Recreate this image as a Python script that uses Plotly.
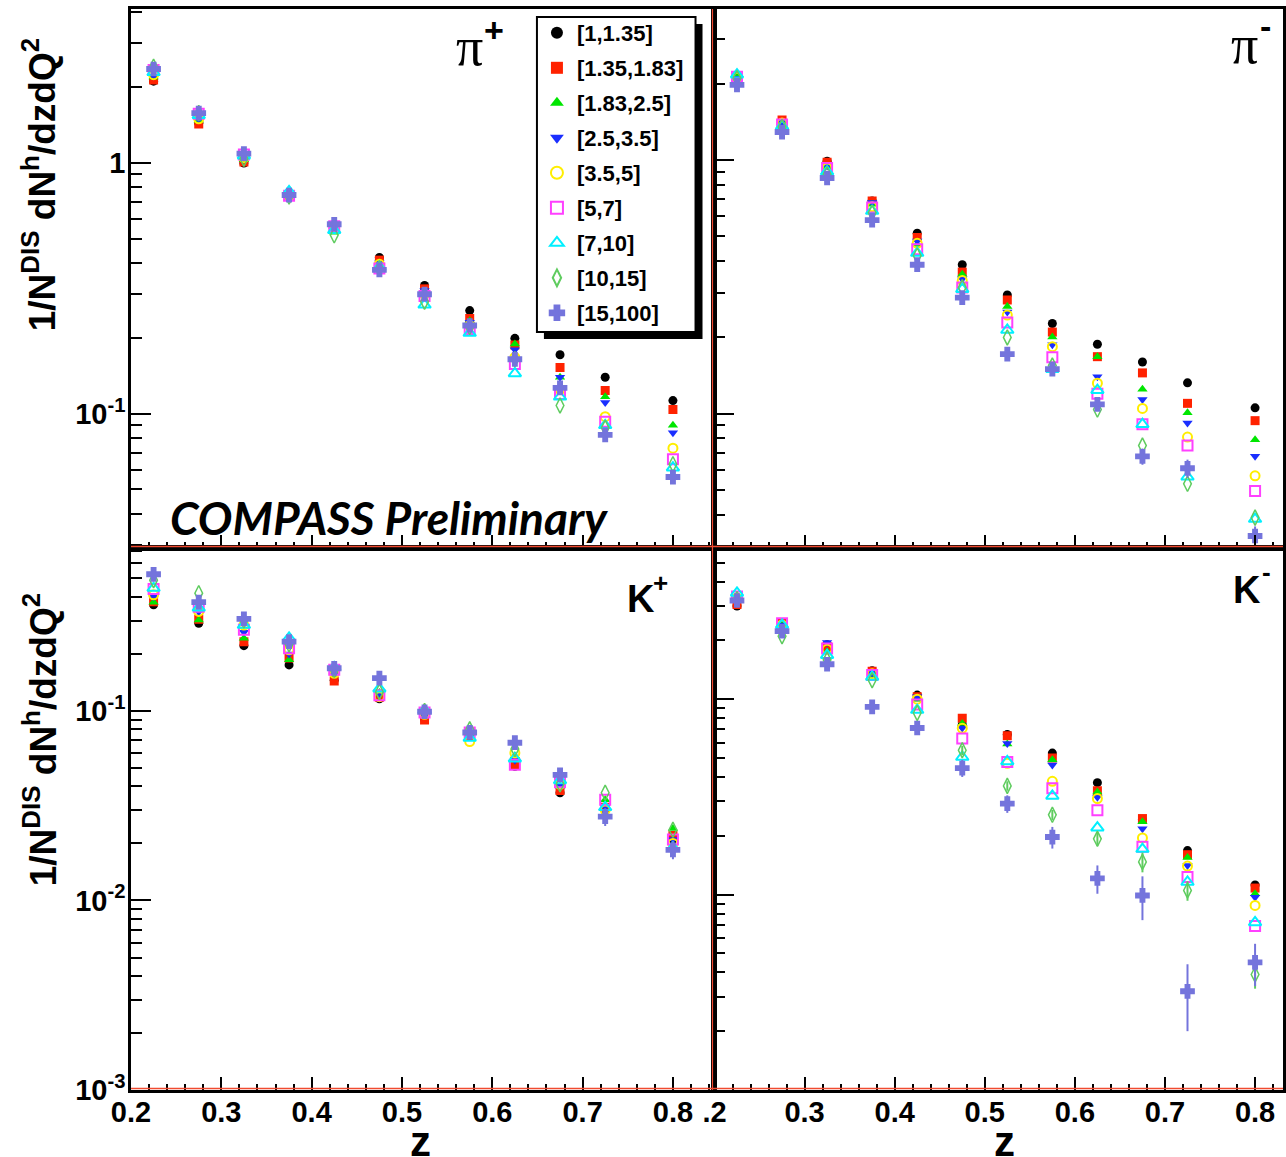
import numpy as np
import plotly.graph_objects as go

# ---------------- data ----------------
Z = [0.225, 0.275, 0.325, 0.375, 0.425, 0.475, 0.525, 0.575, 0.625, 0.675, 0.725, 0.8]
BINS = ["[1,1.35]", "[1.35,1.83]", "[1.83,2.5]", "[2.5,3.5]", "[3.5,5]",
        "[5,7]", "[7,10]", "[10,15]", "[15,100]"]

PIP = [
    [2.12, 1.44, 1.00, 0.745, 0.55, 0.42, 0.325, 0.258, 0.20, 0.172, 0.14, 0.113],
    [2.14, 1.43, 1.01, 0.745, 0.55, 0.41, 0.315, 0.24, 0.188, 0.153, 0.124, 0.104],
    [2.20, 1.48, 1.03, 0.75, 0.53, 0.40, 0.305, 0.235, 0.19, 0.14, 0.117, 0.09],
    [2.22, 1.50, 1.04, 0.75, 0.55, 0.40, 0.31, 0.232, 0.18, 0.14, 0.111, 0.084],
    [2.25, 1.50, 1.05, 0.745, 0.55, 0.395, 0.30, 0.225, 0.168, 0.125, 0.0975, 0.073],
    [2.35, 1.57, 1.08, 0.74, 0.56, 0.38, 0.295, 0.218, 0.158, 0.12, 0.093, 0.066],
    [2.30, 1.55, 1.07, 0.77, 0.54, 0.385, 0.272, 0.21, 0.145, 0.117, 0.09, 0.061],
    [2.42, 1.58, 1.04, 0.735, 0.515, 0.38, 0.28, 0.222, 0.165, 0.108, 0.088, 0.063],
    [2.37, 1.58, 1.09, 0.745, 0.57, 0.375, 0.30, 0.225, 0.165, 0.127, 0.0825, 0.056],
]
PIM = [
    [2.10, 1.43, 0.99, 0.69, 0.515, 0.387, 0.294, 0.227, 0.188, 0.16, 0.1325, 0.1056],
    [2.10, 1.44, 0.98, 0.69, 0.495, 0.362, 0.281, 0.21, 0.168, 0.145, 0.11, 0.094],
    [2.15, 1.40, 0.94, 0.67, 0.465, 0.355, 0.265, 0.201, 0.168, 0.125, 0.101, 0.079],
    [2.10, 1.41, 0.95, 0.68, 0.48, 0.34, 0.252, 0.187, 0.14, 0.114, 0.092, 0.068],
    [2.12, 1.40, 0.93, 0.655, 0.47, 0.335, 0.245, 0.184, 0.132, 0.105, 0.081, 0.057],
    [2.13, 1.38, 0.93, 0.65, 0.445, 0.315, 0.229, 0.167, 0.12, 0.091, 0.075, 0.0496],
    [2.17, 1.36, 0.90, 0.63, 0.43, 0.31, 0.214, 0.15, 0.124, 0.091, 0.0565, 0.0385],
    [2.10, 1.35, 0.88, 0.62, 0.42, 0.315, 0.20, 0.155, 0.104, 0.075, 0.053, 0.039],
    [1.98, 1.29, 0.85, 0.58, 0.387, 0.287, 0.172, 0.15, 0.109, 0.068, 0.061, 0.033],
]
KP = [
    [0.363, 0.29, 0.221, 0.175, 0.145, 0.116, 0.09, 0.075, 0.051, 0.037, 0.03, 0.021],
    [0.377, 0.305, 0.232, 0.19, 0.144, 0.118, 0.0896, 0.074, 0.052, 0.038, 0.031, 0.022],
    [0.375, 0.302, 0.242, 0.186, 0.16, 0.125, 0.095, 0.075, 0.058, 0.04, 0.034, 0.024],
    [0.40, 0.334, 0.26, 0.20, 0.155, 0.124, 0.095, 0.075, 0.055, 0.04, 0.031, 0.021],
    [0.41, 0.335, 0.284, 0.21, 0.158, 0.119, 0.096, 0.069, 0.06, 0.041, 0.03, 0.02],
    [0.44, 0.355, 0.268, 0.214, 0.165, 0.121, 0.098, 0.077, 0.052, 0.042, 0.034, 0.021],
    [0.445, 0.35, 0.284, 0.243, 0.17, 0.131, 0.101, 0.072, 0.056, 0.043, 0.031, 0.019],
    [0.49, 0.418, 0.30, 0.225, 0.165, 0.126, 0.10, 0.08, 0.063, 0.041, 0.037, 0.0236],
    [0.526, 0.375, 0.306, 0.232, 0.168, 0.149, 0.099, 0.077, 0.068, 0.046, 0.0277, 0.0185],
]
KM = [
    [0.30, 0.245, 0.19, 0.14, 0.105, 0.074, 0.066, 0.053, 0.0374, 0.0242, 0.0168, 0.0112],
    [0.305, 0.245, 0.186, 0.139, 0.103, 0.08, 0.065, 0.05, 0.034, 0.0245, 0.016, 0.0108],
    [0.32, 0.24, 0.175, 0.132, 0.10, 0.075, 0.059, 0.049, 0.0335, 0.0236, 0.0155, 0.0101],
    [0.32, 0.24, 0.195, 0.136, 0.103, 0.0713, 0.0593, 0.046, 0.0315, 0.0217, 0.0141, 0.0097],
    [0.33, 0.24, 0.18, 0.135, 0.10, 0.071, 0.047, 0.038, 0.031, 0.0195, 0.014, 0.0088],
    [0.335, 0.245, 0.182, 0.133, 0.094, 0.063, 0.0477, 0.035, 0.027, 0.0176, 0.0123, 0.0069],
    [0.35, 0.24, 0.168, 0.13, 0.088, 0.0506, 0.048, 0.032, 0.022, 0.0171, 0.0116, 0.0072],
    [0.325, 0.21, 0.159, 0.125, 0.085, 0.0548, 0.036, 0.0256, 0.0193, 0.0147, 0.0105, 0.0039],
    [0.32, 0.223, 0.151, 0.0913, 0.0712, 0.0444, 0.0292, 0.0197, 0.0121, 0.0099, 0.0032, 0.0045],
]

# visible error bars (others hidden inside the markers)
ERR_CROSS = {
    "pip": [0, 0, 0, 0, 0, 0, 0, 0, 0.004, 0.004, 0.0035, 0.003],
    "pim": [0, 0, 0, 0, 0, 0, 0, 0, 0.004, 0.005, 0.005, 0.003],
    "kp": [0, 0, 0, 0, 0, 0.004, 0, 0, 0.004, 0.003, 0.003, 0.002],
    "km": [0.01, 0.01, 0.008, 0.005, 0.004, 0.0044, 0.003, 0.0025, 0.002, 0.0025, 0.0012, 0.0011],
}
ERR_DIAMOND_KM = [0, 0, 0, 0, 0, 0.003, 0.002, 0.0015, 0.0015, 0.0017, 0.0012, 0.0006]

XTICKS = [0.2, 0.3, 0.4, 0.5, 0.6, 0.7, 0.8]
XTICKTEXT_L = ["0.2", "0.3", "0.4", "0.5", "0.6", "0.7", "0.8"]
XTICKTEXT_R = [".2", "0.3", "0.4", "0.5", "0.6", "0.7", "0.8"]

# ---------------- styles ----------------
COLORS = ["#000000", "#ff2200", "#00e600", "#1a2eff", "#ffee00",
          "#ff40ff", "#00f0ff", "#5fcc5f", "#7474dc"]
SYMBOLS = ["circle", "square", "triangle-up", "triangle-down", "circle-open",
           "square-open", "triangle-up-open", "diamond-tall-open", "cross"]
SIZES = [9, 9, 9, 9, 9, 10, 11, 11, 11]
LWIDTH = [0, 0, 0, 0, 2, 2, 2, 1.5, 1.5]

W, H = 1286, 1157
ML, MR, MT, MB = 131, 0, 9, 67
PW, PH = W - ML - MR, H - MT - MB


def px(x):
    return (x - ML) / PW


def py(y):
    return (H - MB - y) / PH


XSPLIT = px(716)
YSPLIT = py(548)

SANS = "Liberation Sans, Arial, sans-serif"
tickfont = dict(family=SANS, size=29, color="black", weight="bold")

fig = go.Figure()

panels = [("pip", PIP, "x", "y"), ("pim", PIM, "x2", "y2"),
          ("kp", KP, "x3", "y3"), ("km", KM, "x4", "y4")]

for key, data, xa, ya in panels:
    for i in range(9):
        err = None
        if i == 8:
            err = ERR_CROSS[key]
        elif i == 7 and key == "km":
            err = ERR_DIAMOND_KM
        tr = dict(
            x=Z, y=data[i], mode="markers", name=BINS[i], xaxis=xa, yaxis=ya,
            showlegend=(key == "pip"), legendgroup=BINS[i],
            marker=dict(symbol=SYMBOLS[i], size=SIZES[i], color=COLORS[i],
                        line=dict(width=LWIDTH[i], color=COLORS[i])),
        )
        if err is not None:
            tr["error_y"] = dict(type="data", array=err, visible=True,
                                 color=COLORS[i], thickness=2, width=0)
        fig.add_trace(go.Scatter(**tr))

xminor = dict(ticks="inside", ticklen=6, tickwidth=2, tickcolor="black",
              tickmode="array", tickvals=list(np.round(np.arange(0.2, 0.86, 0.02), 3)))
ymin_vals = [k * 10.0 ** d for d in range(-4, 1) for k in range(2, 10)]
yminor = dict(ticks="inside", ticklen=11, tickwidth=2, tickcolor="black",
              tickmode="array", tickvals=ymin_vals)


def xaxis(domain, anchor, rng, showlab, ttext):
    return dict(domain=domain, anchor=anchor, range=rng, showline=True,
                linecolor="black", linewidth=2.5, mirror=True, ticks="inside",
                ticklen=13, tickwidth=2, tickcolor="black", tickmode="array",
                tickvals=XTICKS, ticktext=ttext, showticklabels=showlab,
                ticklabelstandoff=-6,
                minor=xminor, showgrid=False, zeroline=False, tickfont=tickfont)


def yaxis(domain, anchor, rng, showlab, tv, tt):
    return dict(domain=domain, anchor=anchor, type="log", range=rng, showline=True,
                linecolor="black", linewidth=2.5, mirror=True, ticks="inside",
                ticklen=20, tickwidth=2, tickcolor="black", tickmode="array",
                tickvals=tv, ticktext=tt, showticklabels=showlab, minor=yminor,
                ticklabelstandoff=-3,
                showgrid=False, zeroline=False, tickfont=tickfont)


fig.update_layout(
    width=W, height=H, margin=dict(l=ML, r=MR, t=MT, b=MB),
    paper_bgcolor="white", plot_bgcolor="white",
    xaxis=xaxis([0, XSPLIT], "y", [0.2, 0.846], False, XTICKTEXT_L),
    xaxis2=xaxis([XSPLIT, 1], "y2", [0.2, 0.831], False, XTICKTEXT_R),
    xaxis3=xaxis([0, XSPLIT], "y3", [0.2, 0.846], True, XTICKTEXT_L),
    xaxis4=xaxis([XSPLIT, 1], "y4", [0.2, 0.831], True, XTICKTEXT_R),
    yaxis=yaxis([YSPLIT, 1], "x", [np.log10(0.0292), np.log10(4.11)], True,
                [0.1, 1], ["10<sup>-1</sup>", "1"]),
    yaxis2=yaxis([YSPLIT, 1], "x2", [np.log10(0.0296), np.log10(3.94)], False,
                 [0.1, 1], ["", ""]),
    yaxis3=yaxis([0, YSPLIT], "x3", [-3, np.log10(0.724)], True,
                 [0.001, 0.01, 0.1], ["10<sup>-3</sup>", "10<sup>-2</sup>", "10<sup>-1</sup>"]),
    yaxis4=yaxis([0, YSPLIT], "x4", [-3, np.log10(0.594)], False,
                 [0.001, 0.01, 0.1], ["", "", ""]),
    legend=dict(x=px(538), y=py(12), xanchor="left", yanchor="top",
                bgcolor="rgba(0,0,0,0)", borderwidth=0,
                font=dict(family=SANS, size=22, color="black", weight="bold"),
                itemsizing="constant", tracegroupgap=3.4),
    showlegend=True,
)

shapes = [
    # legend shadow and box
    dict(type="rect", xref="paper", yref="paper", x0=px(545), x1=px(704),
         y0=py(339), y1=py(24), fillcolor="black", line=dict(width=0), layer="above"),
    dict(type="rect", xref="paper", yref="paper", x0=px(538), x1=px(697),
         y0=py(332), y1=py(17), fillcolor="white", line=dict(width=2, color="black"),
         layer="above"),
    # red frame lines
    dict(type="line", xref="paper", yref="paper", x0=0, x1=1, y0=py(546.5), y1=py(546.5),
         line=dict(color="#f04a30", width=1.5)),
    dict(type="line", xref="paper", yref="paper", x0=0, x1=1, y0=py(1088.5), y1=py(1088.5),
         line=dict(color="#f04a30", width=1.5)),
    dict(type="line", xref="paper", yref="paper", x0=px(714), x1=px(714), y0=0, y1=1,
         line=dict(color="#f04a30", width=1.2)),
]
fig.update_layout(shapes=shapes)

ytitle = "1/N<sup>DIS</sup> dN<sup>h</sup>/dzdQ<sup>2</sup>"
ann = [
    dict(x=px(40), y=py(185), text=ytitle, textangle=-90, showarrow=False,
         font=dict(family=SANS, size=37, color="black", weight="bold")),
    dict(x=px(40), y=py(740), text=ytitle, textangle=-90, showarrow=False,
         font=dict(family=SANS, size=37, color="black", weight="bold")),
    dict(x=px(421), y=py(1141), text="z", showarrow=False,
         font=dict(family=SANS, size=42, color="black", weight="bold")),
    dict(x=px(1007), y=py(1141), text="z", showarrow=False,
         font=dict(family=SANS, size=42, color="black", weight="bold")),
    dict(x=px(390), y=py(517), text="COMPASS Preliminary", showarrow=False,
         font=dict(family="Lato, Open Sans, sans-serif", size=46, color="black",
                   weight="bold", style="italic")),
    dict(x=px(470), y=py(47), text="π", showarrow=False,
         font=dict(family="Liberation Serif, serif", size=54, color="black")),
    dict(x=px(495), y=py(30), text="<b>+</b>", showarrow=False,
         font=dict(family=SANS, size=34, color="black")),
    dict(x=px(1247), y=py(45), text="π", showarrow=False,
         font=dict(family="Liberation Serif, serif", size=54, color="black")),
    dict(x=px(1268), y=py(26), text="<b>-</b>", showarrow=False,
         font=dict(family=SANS, size=34, color="black")),
    dict(x=px(642), y=py(599), text="<b>K</b>", showarrow=False,
         font=dict(family=SANS, size=38, color="black")),
    dict(x=px(662), y=py(583), text="<b>+</b>", showarrow=False,
         font=dict(family=SANS, size=26, color="black")),
    dict(x=px(1250), y=py(590), text="<b>K</b>", showarrow=False,
         font=dict(family=SANS, size=38, color="black")),
    dict(x=px(1269), y=py(572), text="<b>-</b>", showarrow=False,
         font=dict(family=SANS, size=26, color="black")),
]
for a in ann:
    a.update(xref="paper", yref="paper", xanchor="center", yanchor="middle")
fig.update_layout(annotations=ann)

fig.write_html("out.html", config={"displayModeBar": False},
               post_script="document.body.style.margin='0';document.body.style.overflow='hidden';")
